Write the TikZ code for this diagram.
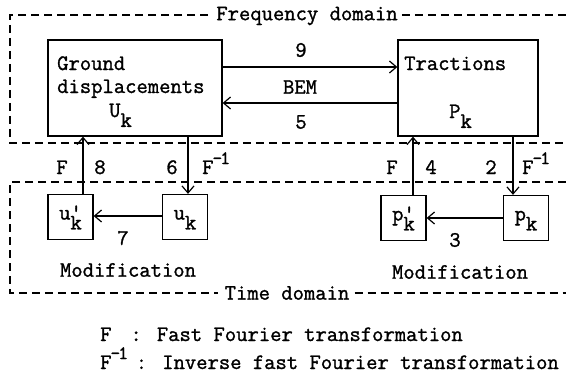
\documentclass[tikz,border=0pt]{standalone}
\usepackage{fontspec}
\newfontfamily\twfont{Latin Modern Mono}[FakeBold=1.3]
\usetikzlibrary{arrows.meta}
\newcommand\kk{\raisebox{-0.45em}{k}}
\newcommand\pr{\rlap{\raisebox{0.02em}{'}}}
\newcommand\Finv{F\kern-0.05em\raisebox{0.45em}{\fontsize{19}{19}\selectfont -\kern-0.1em1}}
\begin{document}
\begin{tikzpicture}[x=1pt,y=-1pt,
  font=\twfont\fontsize{22}{26}\selectfont,
  box/.style={draw, line width=1.3pt, inner sep=0pt},
  sbox/.style={box, minimum width=45pt, minimum height=45pt, text height=14pt, text depth=9pt},
  frame/.style={line width=1.2pt, dash pattern=on 8pt off 5pt},
  arr/.style={line width=1.2pt, -{Straight Barb[length=7pt,width=12pt,line width=1.2pt]}},
  lbl/.style={inner sep=0pt},
  title/.style={inner sep=0pt, fill=white}]
\useasboundingbox (0,0) rectangle (566,383);

% frames
\node[title] (freq) at (307,16) {Frequency domain};
\node[title] (time) at (287,293) {Time domain};
\coordinate (fr) at (566,15);
\coordinate (fbr) at (566,143);
\coordinate (tr) at (566,182);
\coordinate (tbr) at (566,293);
\draw[frame] ([xshift=-8pt]freq.west |- fr) -- (10,15) -- (10,143) -- (fbr);
\draw[frame] ([xshift=4pt]freq.east |- fr) -- (fr);
\draw[frame] (tr) -- (10,182) -- (10,293) -- ([xshift=-6pt]time.west |- tbr);
\draw[frame] ([xshift=5pt]time.east |- tbr) -- (tbr);

% big boxes
\node[box, minimum width=174pt, minimum height=96pt] (gd) at (135,88) {};
\node[box, minimum width=140pt, minimum height=96pt] (trb) at (468,88) {};
\node[lbl, anchor=base west] (gd1) at (57,70) {Ground};
\node[lbl, anchor=base west] (gd2) at (57,93) {displacements};
\node[lbl, anchor=base west] (gd3) at (109,117) {U\kk};
\node[lbl, anchor=base west] (tr1) at (404,70) {Tractions};
\node[lbl, anchor=base west] (tr2) at (449,118) {P\kk};

% BEM arrows
\coordinate (y9) at (0,67);
\coordinate (y5) at (0,103);
\draw[arr] (gd.east |- y9) -- (trb.west |- y9);
\draw[arr] (trb.west |- y5) -- (gd.east |- y5);
\node[lbl] (n9) at (301,50) {9};
\node[lbl] (bem) at (300,87) {BEM};
\node[lbl] (n5) at (301,122) {5};

% small boxes
\node[sbox] (upk) at (70.5,217) {u\pr\kk};
\node[sbox] (uk) at (185,217) {u\kk};
\node[sbox] (ppk) at (403.5,218) {p\pr\kk};
\node[sbox] (pk) at (526,218) {p\kk};

% vertical arrows
\coordinate (x8) at (83,0);
\coordinate (x6) at (188,0);
\coordinate (x4) at (413,0);
\coordinate (x2) at (513,0);
\draw[arr] (x8 |- upk.north) -- (x8 |- gd.south);
\draw[arr] (x6 |- gd.south) -- (x6 |- uk.north);
\draw[arr] (x4 |- ppk.north) -- (x4 |- trb.south);
\draw[arr] (x2 |- trb.south) -- (x2 |- pk.north);

\node[lbl, anchor=base] (fa) at (62,174) {F};
\node[lbl, anchor=base] (n8) at (100,174) {8};
\node[lbl, anchor=base] (n6) at (172,174) {6};
\node[lbl, anchor=base west] (fia) at (202,174) {\Finv};
\node[lbl, anchor=base] (fb) at (392,174) {F};
\node[lbl, anchor=base] (n4) at (431,174) {4};
\node[lbl, anchor=base] (n2) at (491,174) {2};
\node[lbl, anchor=base west] (fib) at (522,174) {\Finv};

% horizontal modification arrows
\draw[arr] (uk.west |- 0,216) -- (upk.east |- 0,216);
\draw[arr] (pk.west |- 0,218) -- (ppk.east |- 0,218);
\node[lbl] (n7) at (123,238) {7};
\node[lbl] (n3) at (455,240) {3};
\node[lbl] (mod1) at (128,270) {Modification};
\node[lbl] (mod2) at (460,272) {Modification};

% legend
\node[lbl, anchor=base west] (lf1) at (100,341) {F};
\node[lbl, anchor=base east] (lt1) at (463,341) {: Fast Fourier transformation};
\node[lbl, anchor=base west] (lf2) at (100,369) {\Finv};
\node[lbl, anchor=base east] (lt2) at (559,369) {: Inverse fast Fourier transformation};
\end{tikzpicture}
\end{document}
